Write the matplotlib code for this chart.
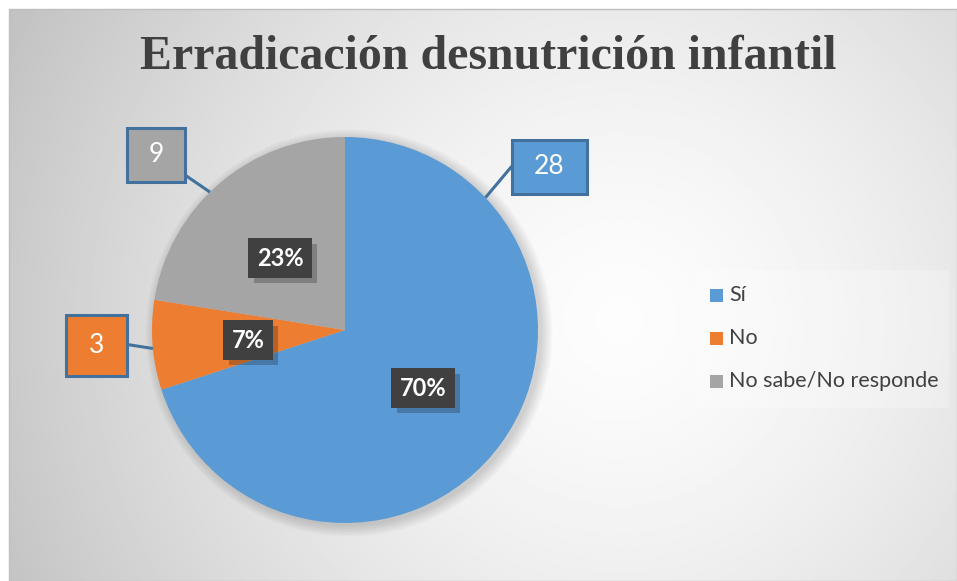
import numpy as np
import matplotlib.pyplot as plt
import matplotlib.patheffects as pe
from matplotlib.patches import Rectangle, Circle

categorias = ["Sí", "No", "No sabe/No responde"]
valores = [28, 3, 9]
porcentajes = ["70%", "7%", "23%"]
colores = ["#5B9BD5", "#ED7D31", "#A5A5A5"]
titulo = "Erradicación desnutrición infantil"

W, H = 957, 581
fig = plt.figure(figsize=(W / 100, H / 100), dpi=100)
ax = fig.add_axes([0, 0, 1, 1])

# ===== FONDO (degradado radial) =====
x0, x1, y0, y1 = 9, W, 0, H - 9
gx, gy = np.meshgrid(np.linspace(x0, x1, 480), np.linspace(y1, y0, 290))
rr = np.hypot((gx - 620) / 620, (gy - (H - 320)) / 620)
fondo = 0.99 - 0.2 * rr ** 1.5
ax.imshow(fondo, cmap="gray", vmin=0, vmax=1, extent=(x0, x1, y0, y1),
          aspect="auto", zorder=0, interpolation="bilinear")
ax.add_patch(Rectangle((x0, y0), x1 - x0, y1 - y0, fill=False,
                       edgecolor="#bfbfbf", lw=1, zorder=1))

# ===== PIE =====
cx, cy, rad = 345, H - 330, 193
for k in range(8):
    ax.add_patch(Circle((cx + 4, cy - 3), rad + 1.5 * k, fc="black", ec="none",
                        alpha=0.02, zorder=1))
wedges, _ = ax.pie(valores, colors=colores, startangle=90, counterclock=False,
                   center=(cx, cy), radius=rad, frame=True,
                   wedgeprops=dict(zorder=2))
ax.set_xlim(0, W)
ax.set_ylim(0, H)
ax.set_aspect("equal")
ax.axis("off")

# etiquetas de porcentaje (caja oscura con sombra)
pos_pct = [(423, H - 388), (248, H - 340), (280, H - 258)]
for txt, (px, py) in zip(porcentajes, pos_pct):
    t = ax.text(px, py, txt, ha="center", va="center", fontsize=17,
                fontweight="bold", family="Lato", color="white",
                bbox=dict(boxstyle="square,pad=0.35", fc="#404040", ec="none"),
                zorder=4)
    t.get_bbox_patch().set_path_effects(
        [pe.SimplePatchShadow(offset=(4, -4), shadow_rgbFace="black", alpha=0.22),
         pe.Normal()])

# etiquetas de valor (cajas) con líneas guía
cajas = [(512, 140, 75, 54), (66, 315, 61, 61), (127, 128, 58, 54)]
inicio_guia = [(512, 166), (124, 344), (185, 175)]
ang_guia = [46.7, 264.5, 315.6]
for v, c, (bx, by, bw, bh), (sx, sy), a in zip(valores, colores, cajas,
                                                 inicio_guia, ang_guia):
    t = np.deg2rad(a)
    ex, ey = cx + rad * np.sin(t), cy + rad * np.cos(t)
    ax.plot([sx, ex], [H - sy, ey], color="#41719C", lw=2.2, zorder=5,
            solid_capstyle="butt")
    ax.add_patch(Rectangle((bx, H - by - bh), bw, bh, fc=c, ec="#41719C",
                           lw=2.2, zorder=6))
    ax.text(bx + bw / 2, H - by - bh / 2, str(v), ha="center", va="center",
            fontsize=19, family="Lato", color="white", zorder=7)

# ===== TITULO =====
ax.text(488, H - 57, titulo, ha="center", va="center", fontsize=34.5,
        fontweight="bold", family="Liberation Serif", color="#404040", zorder=5)

# ===== LEYENDA =====
ax.add_patch(Rectangle((697, H - 408), 252, 138, fc="white", ec="none",
                       alpha=0.25, zorder=1))
for i, (cat, c) in enumerate(zip(categorias, colores)):
    ly = H - (295 + 43 * i)
    ax.add_patch(Rectangle((710, ly - 6.5), 13, 13, fc=c, ec="none", zorder=5))
    ax.text(729, ly, cat, ha="left", va="center", fontsize=15.5,
            family="Lato", color="#404040", zorder=5)

fig.savefig("out.png", dpi=100)
